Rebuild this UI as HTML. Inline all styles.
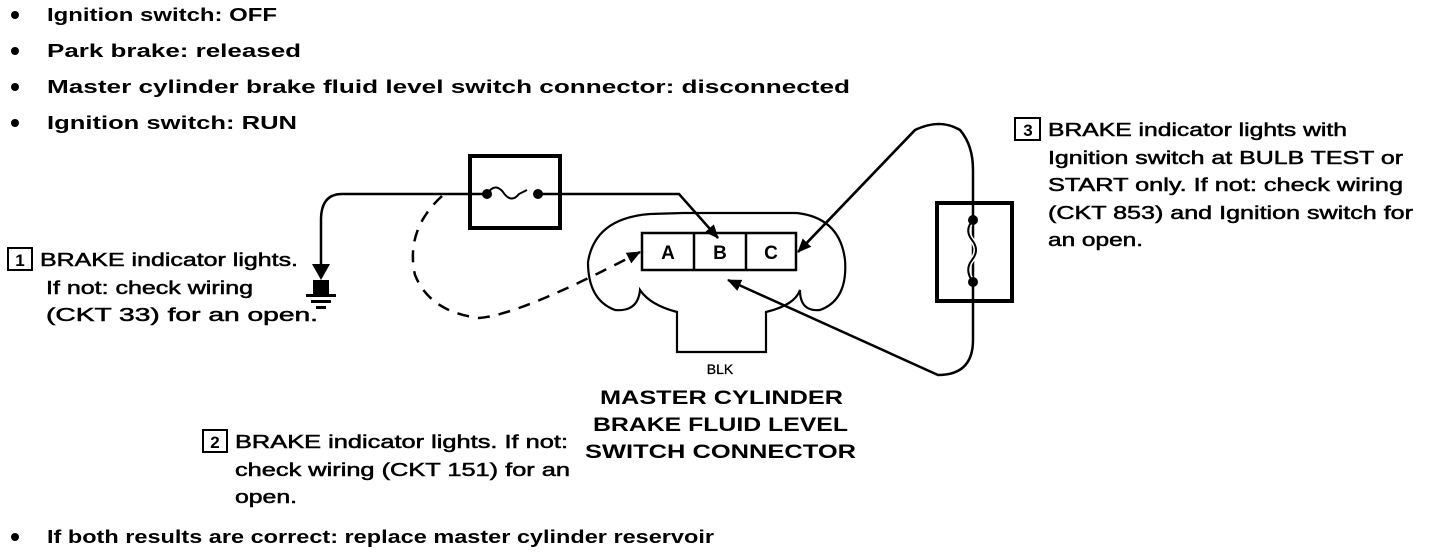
<!DOCTYPE html>
<html><head><meta charset="utf-8"><style>
html,body{margin:0;padding:0;background:#fff;}
svg{display:block;}
text{font-family:"Liberation Sans",Arial,sans-serif;fill:#000;}
.b{font-weight:bold;font-size:18px;}
.n{font-size:18px;stroke:#000;stroke-width:0.5;}
.t{font-weight:bold;font-size:19px;}
</style></head><body>
<svg width="1440" height="552" viewBox="0 0 1440 552" xmlns="http://www.w3.org/2000/svg">
<defs>
<marker id="ah" markerWidth="10" markerHeight="10" refX="9" refY="5" orient="auto" markerUnits="userSpaceOnUse"><path d="M0,0 L10,5 L0,10 Z" fill="#000"/></marker>
<marker id="ah2" markerWidth="14" markerHeight="12" refX="13" refY="6" orient="auto" markerUnits="userSpaceOnUse"><path d="M0,0 L14,6 L0,12 Z" fill="#000"/></marker>
</defs>
<!-- bullets -->
<g fill="#000">
<circle cx="15" cy="15" r="4"/><circle cx="15" cy="51" r="4"/><circle cx="15" cy="87" r="4"/><circle cx="15" cy="123" r="4"/><circle cx="15" cy="537" r="4"/>
</g>
<text class="b" x="47" y="21" textLength="230" lengthAdjust="spacingAndGlyphs">Ignition switch:  OFF</text>
<text class="b" x="47" y="57" textLength="254" lengthAdjust="spacingAndGlyphs">Park brake: released</text>
<text class="b" x="47" y="93" textLength="803" lengthAdjust="spacingAndGlyphs">Master cylinder brake fluid level switch connector: disconnected</text>
<text class="b" x="47" y="129" textLength="250" lengthAdjust="spacingAndGlyphs">Ignition switch: RUN</text>
<text class="b" x="47" y="543" textLength="667" lengthAdjust="spacingAndGlyphs">If both results are correct: replace master cylinder reservoir</text>

<g fill="none" stroke="#000" stroke-width="2.5">
<!-- fuse box 1 -->
<rect x="470" y="156" width="90" height="72" stroke-width="4"/>
<!-- main wire -->
<path d="M342,194 Q321,194 321,220 L321,268"/>
<path d="M342,194 L487,194"/>
<path d="M487,194 q8,-12 16,-2 q8,12 16,2 l8,-4" stroke-width="2"/>
<path d="M535,194 L679,194 L718,238" marker-end="url(#ah2)"/>
<!-- connector -->
<rect x="642" y="233" width="154" height="37" stroke-width="2.5"/>
<line x1="694" y1="233" x2="694" y2="270"/>
<line x1="746" y1="233" x2="746" y2="270"/>
<!-- blob -->
<path d="M683,213 L797,213 Q840,218 845,260 Q848,300 820,310 Q800,312 800,290 Q795,305 766,312 L766,352 L677,352 L677,312 Q650,305 640,290 Q638,312 615,310 Q588,300 588,262 Q595,218 650,214 Z" stroke-width="2.2"/>
<!-- dashed -->
<path d="M442,196 Q405,230 415,275 Q430,312 479,318 Q520,315 640,252" stroke-dasharray="12,9" marker-end="url(#ah2)"/>
<!-- loop to C and B -->
<path d="M800,250 L915,130 Q940,118 960,130 Q973,145 973,170 L973,340 Q973,375 938,375 L728,280" marker-end="url(#ah2)"/>
<path d="M915,130 L798,252" marker-end="url(#ah2)"/>
<!-- fuse box 2 -->
<rect x="937" y="203" width="75" height="98" stroke-width="4"/>
<path d="M973,220 q-9,10 -1,20 q8,10 0,20 q-8,10 1,22" stroke="#fff" stroke-width="5"/>
<path d="M973,220 q-9,10 -1,20 q8,10 0,20 q-8,10 1,22" stroke-width="2"/>
</g>
<g fill="#000">
<circle cx="487" cy="194" r="5"/><circle cx="538" cy="194" r="5"/>
<circle cx="973" cy="220" r="5"/><circle cx="973" cy="282" r="5"/>
</g>
<!-- ground -->
<g fill="#000">
<path d="M312,264 L330,264 L321,280 Z"/>
<rect x="313" y="280" width="16" height="14"/>
<rect x="306" y="294" width="30" height="3"/>
<rect x="311" y="300" width="20" height="3"/>
<rect x="316" y="306" width="10" height="3"/>
</g>
<text x="642" y="262" font-size="20" font-weight="bold" textLength="0">
</text>
<text x="668" y="259" font-size="19" font-weight="bold" text-anchor="middle">A</text>
<text x="720" y="259" font-size="19" font-weight="bold" text-anchor="middle">B</text>
<text x="771" y="259" font-size="19" font-weight="bold" text-anchor="middle">C</text>
<text x="720" y="374" font-size="14" text-anchor="middle" stroke="#000" stroke-width="0.3">BLK</text>

<text class="t" x="600" y="404" textLength="243" lengthAdjust="spacingAndGlyphs">MASTER CYLINDER</text>
<text class="t" x="593" y="431" textLength="255" lengthAdjust="spacingAndGlyphs">BRAKE FLUID LEVEL</text>
<text class="t" x="585" y="458" textLength="271" lengthAdjust="spacingAndGlyphs">SWITCH CONNECTOR</text>

<!-- box labels -->
<g fill="none" stroke="#000" stroke-width="2">
<rect x="8" y="248" width="24" height="22"/>
<rect x="203" y="430" width="24" height="22"/>
<rect x="1015" y="118" width="25" height="22"/>
</g>
<text x="20" y="266" font-size="17" font-weight="bold" text-anchor="middle">1</text>
<text x="215" y="448" font-size="17" font-weight="bold" text-anchor="middle">2</text>
<text x="1028" y="136" font-size="17" font-weight="bold" text-anchor="middle">3</text>

<text class="n" x="40" y="266" textLength="258" lengthAdjust="spacingAndGlyphs">BRAKE indicator lights.</text>
<text class="n" x="46" y="294" textLength="207" lengthAdjust="spacingAndGlyphs">If not: check wiring</text>
<text class="n" x="46" y="321" textLength="272" lengthAdjust="spacingAndGlyphs">(CKT 33) for an open.</text>

<text class="n" x="235" y="448" textLength="333" lengthAdjust="spacingAndGlyphs">BRAKE indicator lights. If not:</text>
<text class="n" x="235" y="476" textLength="335" lengthAdjust="spacingAndGlyphs">check wiring (CKT 151) for an</text>
<text class="n" x="235" y="503" textLength="62" lengthAdjust="spacingAndGlyphs">open.</text>

<text class="n" x="1048" y="136" textLength="299" lengthAdjust="spacingAndGlyphs">BRAKE indicator lights with</text>
<text class="n" x="1048" y="164" textLength="355" lengthAdjust="spacingAndGlyphs">Ignition switch at BULB TEST or</text>
<text class="n" x="1048" y="191" textLength="355" lengthAdjust="spacingAndGlyphs">START only. If not: check wiring</text>
<text class="n" x="1048" y="219" textLength="365" lengthAdjust="spacingAndGlyphs">(CKT 853) and Ignition switch for</text>
<text class="n" x="1048" y="246" textLength="95" lengthAdjust="spacingAndGlyphs">an open.</text>
</svg>
</body></html>
